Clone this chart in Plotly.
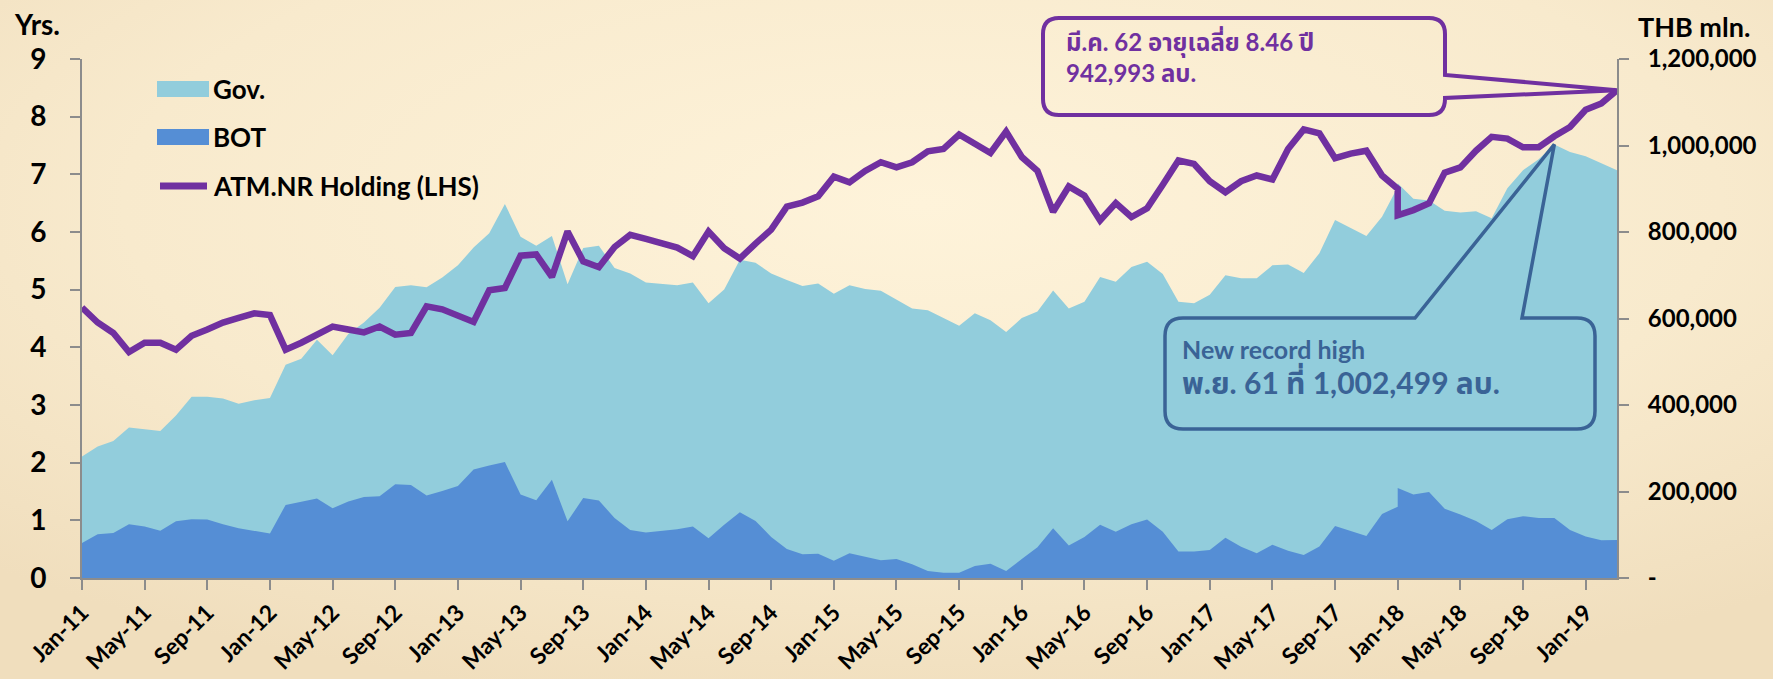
import base64
import pandas as pd
import plotly.graph_objects as go

# ---------------- data ----------------
months = pd.date_range("2011-01-01", "2019-03-01", freq="MS")          # 99 months
# Jan-18 is reported twice in the source series (old / new basis)
obs_months = list(months[:85]) + [months[84]] + list(months[85:])     # 100 observations

# ATM.NR holding, average time to maturity (years, LHS)
atm_years = [4.69, 4.43, 4.25, 3.92, 4.08, 4.08, 3.96, 4.20, 4.31, 4.43,
             4.51, 4.59, 4.56, 3.96, 4.08, 4.22, 4.36, 4.31, 4.26, 4.36,
             4.22, 4.25, 4.71, 4.66, 4.54, 4.44, 4.99, 5.03, 5.59, 5.61,
             5.22, 6.01, 5.49, 5.39, 5.74, 5.95, 5.88, 5.80, 5.73, 5.58,
             6.01, 5.72, 5.54, 5.80, 6.04, 6.44, 6.51, 6.62, 6.96, 6.86,
             7.06, 7.21, 7.12, 7.21, 7.40, 7.44, 7.69, 7.53, 7.37, 7.74,
             7.30, 7.06, 6.35, 6.79, 6.63, 6.20, 6.50, 6.26, 6.41, 6.82,
             7.24, 7.18, 6.88, 6.69, 6.88, 6.98, 6.91, 7.44, 7.78, 7.71,
             7.28, 7.36, 7.41, 6.98, 6.75, 6.29, 6.38, 6.50, 7.03, 7.12,
             7.41, 7.65, 7.62, 7.47, 7.47, 7.66, 7.82, 8.12, 8.23, 8.46]

# BOT bond holdings ('000 THB mln, RHS)
bot_k = [81, 101, 104, 124, 119, 109, 131, 136, 135, 124,
         115, 109, 103, 169, 176, 184, 161, 177, 187, 189,
         217, 215, 191, 201, 213, 251, 260, 268, 193, 180,
         227, 131, 185, 179, 139, 111, 105, 109, 113, 119,
         92, 123, 152, 132, 95, 67, 55, 56, 40, 57,
         49, 41, 44, 32, 16, 12, 12, 28, 33, 16,
         44, 71, 115, 75, 95, 123, 107, 124, 135, 107,
         61, 61, 65, 93, 72, 57, 77, 63, 53, 73,
         120, 109, 97, 148, 165, 208, 193, 199, 160, 147,
         132, 111, 136, 143, 139, 139, 111, 96, 87, 88]

# Government bond holdings ('000 THB mln, RHS, stacked on BOT)
gov_k = [200, 203, 213, 224, 225, 231, 245, 283, 284, 291,
         288, 302, 313, 324, 331, 367, 354, 387, 404, 436,
         456, 462, 481, 494, 510, 513, 537, 597, 596, 588,
         564, 548, 578, 589, 578, 593, 578, 571, 564, 564,
         543, 544, 584, 597, 609, 622, 620, 625, 617, 620,
         619, 623, 599, 591, 603, 589, 571, 584, 563, 553,
         557, 545, 550, 548, 544, 573, 578, 595, 596, 596,
         578, 574, 590, 607, 621, 636, 646, 662, 652, 678,
         708, 700, 694, 687, 739, 705, 684, 674, 689, 698,
         716, 721, 765, 800, 829, 863.499, 874, 879, 872, 854.993]

series_names = ["Gov.", "BOT", "ATM.NR Holding (LHS)"]
tick_every = 4
rhs_ticks = [0, 200000, 400000, 600000, 800000, 1000000, 1200000]
rhs_ticktext = ["-" if v == 0 else f"{v:,}" for v in rhs_ticks]

note_latest = "มี.ค. 62 อายุเฉลี่ย 8.46 ปี<br>942,993 ลบ."
note_record_1 = "New record high"
note_record_2 = "พ.ย. 61 ที่ 1,002,499 ลบ."

# ---------------- derived ----------------
x = [(d.year - months[0].year) * 12 + d.month - months[0].month for d in obs_months]
bot = [v * 1000 for v in bot_k]
total = [(g + b) * 1000 for g, b in zip(gov_k, bot_k)]
tickvals = list(range(0, len(months), tick_every))
ticktext = [months[i].strftime("%b-%y") for i in tickvals]
xmax = len(months) - 1

W, H = 1773, 679
ML, MR, MT, MB = 82, 156, 59, 101
PW, PH = W - ML - MR, H - MT - MB

PURPLE = "#7030A0"
GOV_C = "#92CDDC"
BOT_C = "#558ED5"
BOX_BLUE = "#3A6396"
BG = "#F8EACD"
FONT = "Lato, 'Noto Sans Thai', 'Noto Sans', sans-serif"


def to_paper(px, py):
    return (px - ML) / PW, (H - MB - py) / PH


def path_from_px(cmds):
    out = []
    for c in cmds:
        op, pts = c[0], c[1:]
        coords = []
        for (px, py) in pts:
            xp, yp = to_paper(px, py)
            coords.append(f"{xp:.5f},{yp:.5f}")
        out.append(op + " " + " L ".join(coords) if op != "Q" else "Q " + " ".join(coords))
    return " ".join(out) + " Z"


def data_to_px(xv, yv, ymax):
    return ML + xv / xmax * PW, H - MB - yv / ymax * PH


fig = go.Figure()
# holdings on the right-hand axis (drawn underneath)
fig.add_trace(go.Scatter(x=x, y=total, name=series_names[0], yaxis="y", mode="lines",
                         line=dict(width=0, color=GOV_C), fill="tozeroy",
                         fillcolor=GOV_C, showlegend=False))
fig.add_trace(go.Scatter(x=x, y=bot, name=series_names[1], yaxis="y", mode="lines",
                         line=dict(width=0, color=BOT_C), fill="tozeroy",
                         fillcolor=BOT_C, showlegend=False))
# maturity line on the left-hand axis (overlaying, drawn on top)
fig.add_trace(go.Scatter(x=x, y=atm_years, name=series_names[2], yaxis="y2",
                         mode="lines", line=dict(width=6.5, color=PURPLE),
                         showlegend=False))

shapes = []
ann = []

# --- legend (drawn as swatches + text) ---
leg_rows = [89, 137, 186]
for name, color, yy in zip(series_names, [GOV_C, BOT_C, PURPLE], leg_rows):
    if name == series_names[2]:
        xa, ya = to_paper(160, yy)
        xb, _ = to_paper(207, yy)
        shapes.append(dict(type="line", xref="paper", yref="paper", x0=xa, x1=xb, y0=ya, y1=ya,
                           line=dict(color=color, width=7)))
    else:
        xa, ya = to_paper(157, yy - 8)
        xb, yb = to_paper(209, yy + 8)
        shapes.append(dict(type="rect", xref="paper", yref="paper", x0=xa, x1=xb, y0=yb, y1=ya,
                           line=dict(width=0), fillcolor=color))
    tx, ty = to_paper(211, yy)
    ann.append(dict(x=tx, y=ty, xref="paper", yref="paper", text=name, showarrow=False,
                    xanchor="left", yanchor="middle",
                    font=dict(size=26, color="black", family=FONT, weight="bold")))

# --- callouts ---
ax1, ay1 = data_to_px(x[-1], atm_years[-1], 9)
x0, x1, y0, y1, r = 1043, 1445, 18, 115, 16
purple_path = [
    ("M", (x0 + r, y0)), ("L", (x1 - r, y0)), ("Q", (x1, y0), (x1, y0 + r)),
    ("L", (x1, 75)), ("L", (ax1, ay1)), ("L", (x1, 98)), ("L", (x1, y1 - r)),
    ("Q", (x1, y1), (x1 - r, y1)), ("L", (x0 + r, y1)), ("Q", (x0, y1), (x0, y1 - r)),
    ("L", (x0, y0 + r)), ("Q", (x0, y0), (x0 + r, y0)),
]
ipk = total.index(max(total))
ax2, ay2 = data_to_px(x[ipk], total[ipk], rhs_ticks[-1])
bx0, bx1, by0, by1, br = 1165, 1595, 318, 429, 18
blue_path = [
    ("M", (bx0 + br, by0)), ("L", (1415, by0)), ("L", (ax2, ay2)), ("L", (1522, by0)),
    ("L", (bx1 - br, by0)), ("Q", (bx1, by0), (bx1, by0 + br)), ("L", (bx1, by1 - br)),
    ("Q", (bx1, by1), (bx1 - br, by1)), ("L", (bx0 + br, by1)), ("Q", (bx0, by1), (bx0, by1 - br)),
    ("L", (bx0, by0 + br)), ("Q", (bx0, by0), (bx0 + br, by0)),
]
shapes.append(dict(type="path", xref="paper", yref="paper", path=path_from_px(purple_path),
                   line=dict(color=PURPLE, width=4), fillcolor="rgba(0,0,0,0)", layer="above"))
shapes.append(dict(type="path", xref="paper", yref="paper", path=path_from_px(blue_path),
                   line=dict(color=BOX_BLUE, width=3.5), fillcolor="rgba(0,0,0,0)", layer="above"))

px_, py_ = to_paper(1064, 57)
ann.append(dict(x=px_, y=py_, xref="paper", yref="paper", text=note_latest, showarrow=False,
                xanchor="left", yanchor="middle", align="left",
                font=dict(size=24, color=PURPLE, family=FONT, weight="bold")))
px_, py_ = to_paper(1180, 349)
ann.append(dict(x=px_, y=py_, xref="paper", yref="paper", text=note_record_1, showarrow=False,
                xanchor="left", yanchor="middle",
                font=dict(size=25, color=BOX_BLUE, family=FONT, weight="bold")))
px_, py_ = to_paper(1180, 381)
ann.append(dict(x=px_, y=py_, xref="paper", yref="paper", text=note_record_2, showarrow=False,
                xanchor="left", yanchor="middle",
                font=dict(size=30, color=BOX_BLUE, family=FONT, weight="bold")))
px_, py_ = to_paper(37, 24)
ann.append(dict(x=px_, y=py_, xref="paper", yref="paper", text="Yrs.", showarrow=False,
                xanchor="center", yanchor="middle",
                font=dict(size=28, color="black", family=FONT, weight="bold")))
px_, py_ = to_paper(1694, 26)
ann.append(dict(x=px_, y=py_, xref="paper", yref="paper", text="THB mln.", showarrow=False,
                xanchor="center", yanchor="middle",
                font=dict(size=27, color="black", family=FONT, weight="bold")))

# soft radial background like the slide
svg = (f'<svg xmlns="http://www.w3.org/2000/svg" width="{W}" height="{H}">'
       '<defs><radialGradient id="g" cx="0.52" cy="0.3" r="0.75">'
       '<stop offset="0" stop-color="#FEF3DA"/><stop offset="0.6" stop-color="#F8EACD"/>'
       '<stop offset="1" stop-color="#F0DEBD"/></radialGradient></defs>'
       f'<rect width="{W}" height="{H}" fill="url(#g)"/></svg>')
bg_src = "data:image/svg+xml;base64," + base64.b64encode(svg.encode()).decode()

axis_common = dict(showline=True, linecolor="#8C8C8C", linewidth=2, ticks="outside",
                   tickcolor="#8C8C8C", tickwidth=2, ticklen=10, showgrid=False,
                   zeroline=False, automargin=False)

fig.update_layout(
    template="none",
    width=W, height=H,
    margin=dict(l=ML, r=MR, t=MT, b=MB, autoexpand=False),
    paper_bgcolor=BG, plot_bgcolor="rgba(0,0,0,0)",
    font=dict(family=FONT, size=24, color="black", weight="bold"),
    showlegend=False,
    images=[dict(source=bg_src, xref="paper", yref="paper", x=-ML / PW, y=1 + MT / PH,
                 sizex=W / PW, sizey=H / PH, sizing="stretch", xanchor="left",
                 yanchor="top", layer="below")],
    xaxis=dict(range=[0, xmax], tickvals=tickvals, ticktext=ticktext, tickangle=-45,
               tickfont=dict(size=23), **axis_common),
    yaxis=dict(range=[0, rhs_ticks[-1]], side="right", tickvals=rhs_ticks,
               ticktext=rhs_ticktext, tickfont=dict(size=24), ticklabelstandoff=14,
               **axis_common),
    yaxis2=dict(range=[0, 9], dtick=1, overlaying="y", side="left",
                tickfont=dict(size=28), ticklabelstandoff=18, **axis_common),
    shapes=shapes,
    annotations=ann,
)

fig.write_html("out.html", config={"displayModeBar": False},
               post_script="document.body.style.margin='0';document.body.style.overflow='hidden';")
